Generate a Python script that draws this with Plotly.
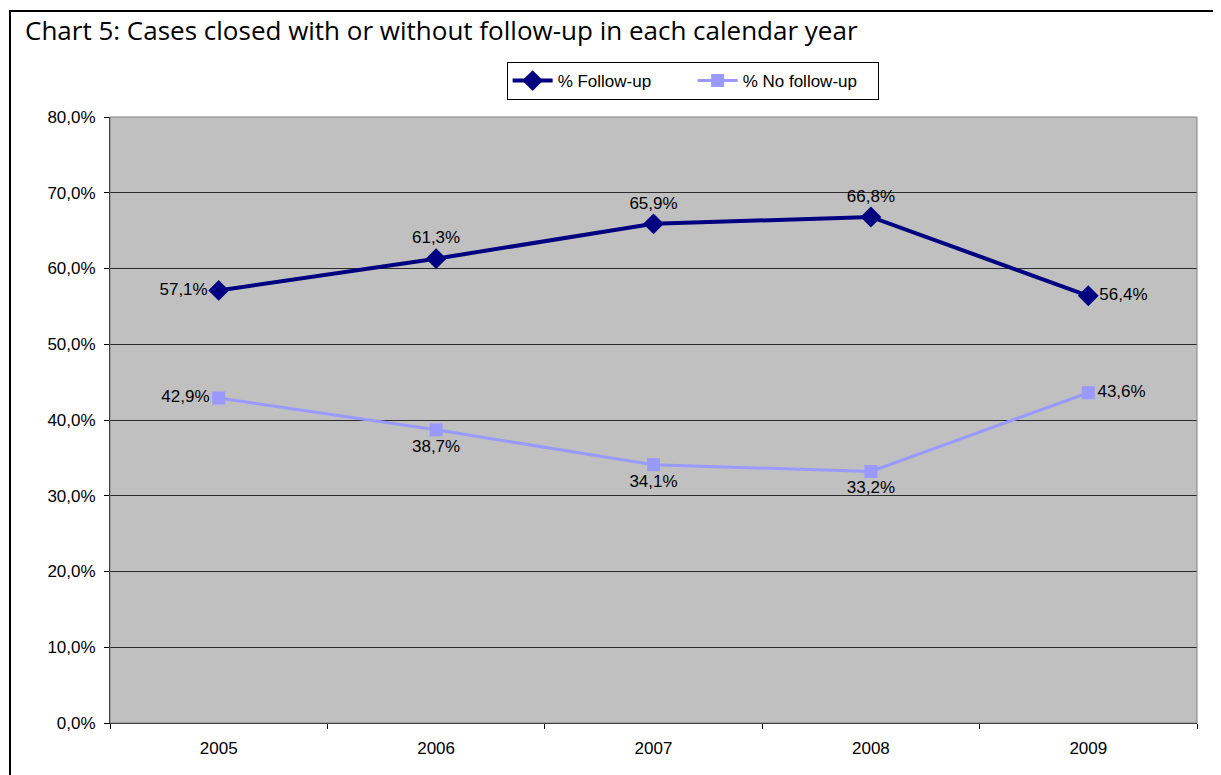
import plotly.graph_objects as go

# ─── DATA ───
years = ["2005", "2006", "2007", "2008", "2009"]
follow_up = [0.571, 0.613, 0.659, 0.668, 0.564]
no_follow_up = [0.429, 0.387, 0.341, 0.332, 0.436]

# label placement per point, as in the original sheet
fu_pos = ["middle left", "top center", "top center", "top center", "middle right"]
nf_pos = ["middle left", "bottom center", "bottom center", "bottom center", "middle right"]

_NAVY = "#000080"
_LILAC = "#9999FF"
_PLOT = "#C0C0C0"
_FONT = "Liberation Sans, Arial, sans-serif"

fig = go.Figure()
fig.add_trace(go.Scatter(
    x=years, y=follow_up, name="% Follow-up", mode="lines+markers+text",
    line=dict(color=_NAVY, width=4),
    marker=dict(symbol="diamond", size=16, color=_NAVY),
    texttemplate="%{y:.1%}", textposition=fu_pos,
    textfont=dict(family=_FONT, size=17, color="black"),
))
fig.add_trace(go.Scatter(
    x=years, y=no_follow_up, name="% No follow-up", mode="lines+markers+text",
    line=dict(color=_LILAC, width=3),
    marker=dict(symbol="square", size=13, color=_LILAC),
    texttemplate="%{y:.1%}", textposition=nf_pos,
    textfont=dict(family=_FONT, size=17, color="black"),
))

# outer chart border (Excel chart frame)
fig.add_shape(type="rect", xref="paper", yref="paper",
              x0=-0.092, x1=1.05, y0=-0.2, y1=1.1749,
              line=dict(color="black", width=2), layer="below")

fig.update_layout(
    width=1213, height=767,
    paper_bgcolor="white", plot_bgcolor=_PLOT,
    separators=",.",
    font=dict(family=_FONT, size=17, color="black"),
    margin=dict(l=102, r=24, t=109, b=52),
    title=dict(text="Chart 5: Cases closed with or without follow-up in each calendar year",
               x=17 / 1213, xanchor="left", y=1 - 23 / 767, yanchor="middle",
               font=dict(family="Open Sans, sans-serif", size=26, color="black")),
    legend=dict(orientation="h", x=0.536, xanchor="center", y=1.0908, yanchor="top",
                bgcolor="white", bordercolor="black", borderwidth=1,
                font=dict(family=_FONT, size=17), itemwidth=40,
                entrywidth=130, entrywidthmode="pixels"),
    showlegend=True,
)
fig.update_xaxes(
    type="category", range=[-0.5, 4.5], tickson="boundaries",
    ticks="outside", ticklen=5, tickcolor="black", ticklabelstandoff=10,
    showline=True, linecolor="black", linewidth=1, showgrid=False, mirror=False,
)
fig.update_yaxes(
    range=[0, 0.8], dtick=0.1, tickformat=".1%", ticks="outside", ticklen=5, tickcolor="black",
    ticklabelstandoff=5,
    showline=True, linecolor="black", linewidth=1,
    gridcolor="#2b2b2b", gridwidth=1, zeroline=False,
)
# grey frame on top/right of the plot area
fig.add_shape(type="rect", xref="paper", yref="paper", x0=0, x1=1, y0=0, y1=1,
              line=dict(color="#808080", width=1))

fig.write_html("out.html")
